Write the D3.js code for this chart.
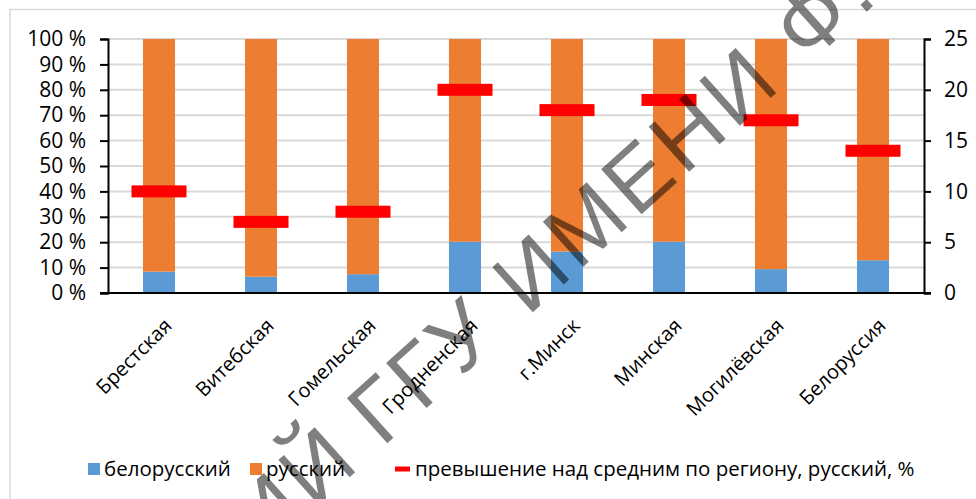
<!DOCTYPE html>
<html>
<head>
<meta charset="utf-8">
<script src="https://cdn.jsdelivr.net/npm/d3@7"></script>
<style>
  body { margin: 0; background: #fff; }
  svg text { font-family: "Open Sans", sans-serif; }
</style>
</head>
<body>
<div id="chart"></div>
<script>
// data
var categories = ["Брестская", "Витебская", "Гомельская", "Гродненская", "г.Минск", "Минская", "Могилёвская", "Белоруссия"]
var belarusian = [8.4, 6.4, 7.4, 20.2, 16.3, 20.2, 9.4, 12.9]   // % of stack
var russian = [91.6, 93.6, 92.6, 79.8, 83.7, 79.8, 90.6, 87.1]
var excess = [10, 7, 8, 20, 18, 19, 17, 14]                    // right axis
var leftTicks = [0, 10, 20, 30, 40, 50, 60, 70, 80, 90, 100]
var rightTicks = [0, 5, 10, 15, 20, 25]
var legendLabels = ["белорусский", "русский", "превышение над средним по региону, русский, %"]

var width = 976
var height = 499
var plotLeft = 108, plotRight = 924, plotTop = 39, plotBottom = 293

var svgContainer = d3.select("#chart")
                    .append("svg")
                    .attr("width", width)
                    .attr("height", height)

// chart frame
svgContainer.append("rect")
            .attr("x", 10)
            .attr("y", 9.5)
            .attr("width", width + 20)
            .attr("height", height + 20)
            .attr("fill", "#fff")
            .attr("stroke", "#d9d9d9")
            .attr("stroke-width", 1.5)

var x = d3.scaleBand()
          .domain(categories)
          .range([plotLeft, plotRight])
          .paddingInner(0.686)
          .paddingOuter(0.343)

var yLeft = d3.scaleLinear().domain([0, 100]).range([plotBottom, plotTop])
var yRight = d3.scaleLinear().domain([0, 25]).range([plotBottom, plotTop])

// gridlines
svgContainer.append("g")
            .selectAll("line")
            .data(leftTicks.slice(1))
            .join("line")
            .attr("x1", plotLeft)
            .attr("x2", plotRight)
            .attr("y1", d => yLeft(d))
            .attr("y2", d => yLeft(d))
            .attr("stroke", "#d9d9d9")
            .attr("stroke-width", 2)

// stacked bars
var rows = categories.map((c, i) => ({cat: c, bel: belarusian[i], rus: russian[i]}))
var stack = d3.stack().keys(["bel", "rus"])(rows)
var colors = {bel: "#5b9bd5", rus: "#ed7d31"}

svgContainer.append("g")
            .selectAll("g")
            .data(stack)
            .join("g")
            .attr("fill", d => colors[d.key])
            .selectAll("rect")
            .data(d => d)
            .join("rect")
            .attr("x", d => x(d.data.cat))
            .attr("y", d => yLeft(d[1]))
            .attr("width", x.bandwidth())
            .attr("height", d => yLeft(d[0]) - yLeft(d[1]))

// red dash markers on the secondary axis
svgContainer.append("g")
            .selectAll("rect")
            .data(excess)
            .join("rect")
            .attr("x", (d, i) => x(categories[i]) + x.bandwidth() / 2 - 27.5)
            .attr("y", d => yRight(d) - 6)
            .attr("width", 55)
            .attr("height", 12)
            .attr("fill", "#ff0000")

// axes
var axisLeft = svgContainer.append("g")
            .attr("transform", "translate(" + plotLeft + ",0)")
            .call(d3.axisLeft(yLeft).tickValues(leftTicks).tickFormat(d => d + " %").tickSize(8).tickPadding(14))
var axisRight = svgContainer.append("g")
            .attr("transform", "translate(" + plotRight + ",0)")
            .call(d3.axisRight(yRight).tickValues(rightTicks).tickSize(7).tickPadding(13))

;[axisLeft, axisRight].forEach(a => {
  a.selectAll("path, line").attr("stroke", "#000").attr("stroke-width", 2)
  a.selectAll("text").attr("font-size", "21px").attr("fill", "#000")
                     .attr("font-family", "Open Sans")
})

svgContainer.append("line")
            .attr("x1", plotLeft - 8)
            .attr("x2", plotRight + 7)
            .attr("y1", plotBottom)
            .attr("y2", plotBottom)
            .attr("stroke", "#000")
            .attr("stroke-width", 2)

// rotated category labels
svgContainer.append("g")
            .selectAll("text")
            .data(categories)
            .join("text")
            .attr("transform", d => "translate(" + (x(d) + x.bandwidth() / 2 + 14) + "," + (plotBottom + 34) + ") rotate(-45)")
            .attr("text-anchor", "end")
            .attr("font-size", "20px")
            .attr("fill", "#000")
            .text(d => d)

// legend
var legendX = [88, 250, 395]
var legend = svgContainer.append("g")
legend.selectAll("rect.sw")
      .data(legendLabels)
      .join("rect")
      .attr("class", "sw")
      .attr("x", (d, i) => legendX[i])
      .attr("y", (d, i) => i < 2 ? 463 : 466.5)
      .attr("width", (d, i) => i < 2 ? 12 : 15)
      .attr("height", (d, i) => i < 2 ? 12 : 5)
      .attr("fill", (d, i) => ["#5b9bd5", "#ed7d31", "#ff0000"][i])
legend.selectAll("text")
      .data(legendLabels)
      .join("text")
      .attr("x", (d, i) => legendX[i] + (i < 2 ? 16 : 20))
      .attr("y", 476)
      .attr("font-size", "20.5px")
      .attr("fill", "#000")
      .text(d => d)

// watermark
var wm = svgContainer.append("g")
            .attr("transform", "translate(382,448) rotate(-42)")
            .attr("fill", "#000")
            .attr("fill-opacity", 0.5)
            .attr("font-size", "88px")
            .attr("letter-spacing", "5px")
wm.append("text")
  .attr("text-anchor", "end")
  .attr("x", -24)
  .style("font-family", "Liberation Sans")
  .text("РЕПОЗИТОРИЙ")
wm.append("text")
  .attr("text-anchor", "start")
  .style("font-family", "Liberation Sans")
  .text("ГГУ ИМЕНИ Ф. СКОРИНЫ")
</script>
</body>
</html>
